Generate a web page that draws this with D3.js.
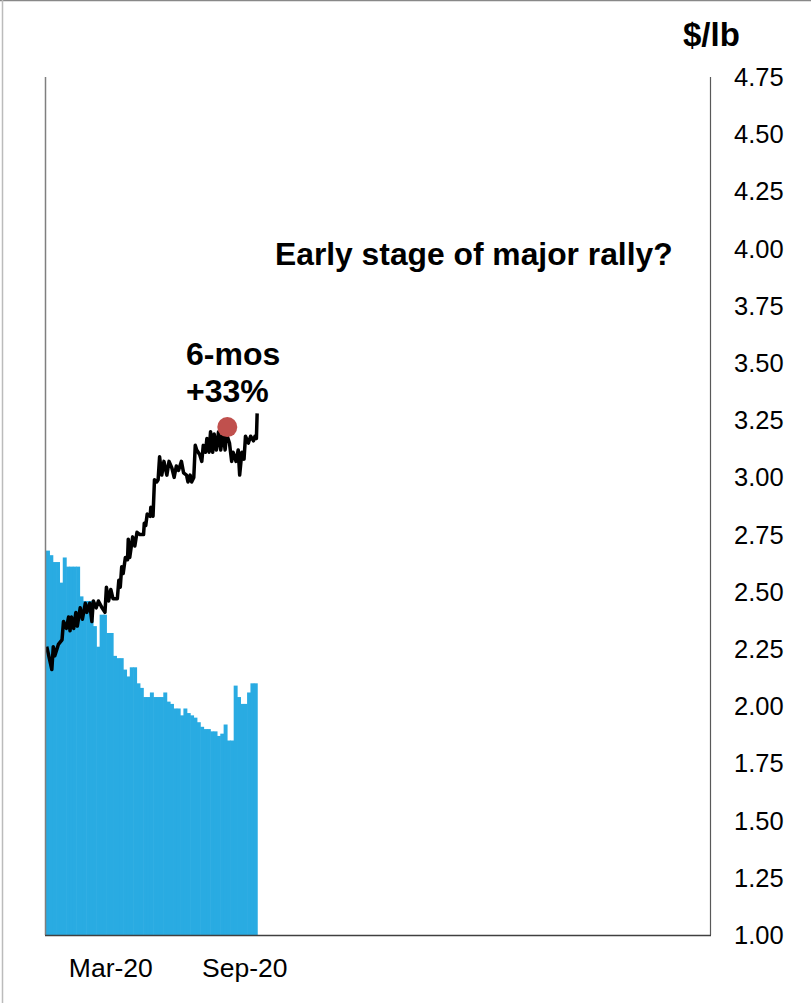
<!DOCTYPE html>
<html>
<head>
<meta charset="utf-8">
<script src="https://cdn.jsdelivr.net/npm/d3@7.9.0/dist/d3.min.js"></script>
<style>
  body { margin: 0; background: #fff; }
  svg { display: block; font-family: "Liberation Sans", Arial, sans-serif; }
</style>
</head>
<body>
<svg id="chart" width="811" height="1003"></svg>
<script>
// axis ranges
const startDate = new Date(2019, 11, 3);
const endDate = new Date(2022, 5, 2);
const yTicks = [1.00, 1.25, 1.50, 1.75, 2.00, 2.25, 2.50, 2.75, 3.00, 3.25, 3.50, 3.75, 4.00, 4.25, 4.50, 4.75];
const xTickDates = [new Date(2020, 2, 1), new Date(2020, 8, 1)];
const xTickLabels = ['Mar-20', 'Sep-20'];

// blue stepped series (equal steps from day 0 to day 290)
const barSpanDays = [0, 290];
const barValues = [
  2.68, 2.66, 2.63, 2.63, 2.54, 2.65, 2.61, 2.61, 2.61, 2.61,
  2.48, 2.46, 2.46, 2.46, 2.35, 2.26, 2.40, 2.40, 2.32, 2.32,
  2.22, 2.21, 2.21, 2.16, 2.13, 2.17, 2.17, 2.10, 2.08, 2.04,
  2.04, 2.06, 2.04, 2.04, 2.04, 2.06, 2.02, 2.01, 1.99, 1.99,
  1.96, 1.99, 1.97, 1.96, 1.95, 1.93, 1.91, 1.90, 1.90, 1.89,
  1.89, 1.87, 1.88, 1.92, 1.85, 1.85, 2.09, 2.04, 2.01, 2.01,
  2.06, 2.10, 2.10
];

// black price line: days since startDate, $/lb
const lineDays = [
  1, 8, 10, 12, 17, 22, 24, 28, 31, 33, 35, 38, 41, 43, 47, 50, 54, 56, 60, 63,
  65, 69, 72, 77, 81, 83, 86, 89, 92, 95, 98, 100, 102, 104, 106, 109, 112, 113, 115, 119,
  122, 125, 129, 134, 135, 137, 139, 143, 144, 147, 149, 152, 154, 156, 159, 162, 166, 169, 173, 176,
  179, 182, 186, 189, 193, 195, 198, 200, 203, 205, 207, 211, 214, 216, 219, 221, 224, 226, 229, 231,
  234, 237, 240, 243, 246, 248, 252, 255, 257, 261, 264, 266, 269, 272, 274, 278, 281, 285, 287, 289, 290
];
const lineValues = [
  2.26, 2.16, 2.26, 2.22, 2.27, 2.29, 2.37, 2.34, 2.39, 2.33, 2.39, 2.34, 2.41, 2.35, 2.43, 2.38, 2.45, 2.41, 2.45, 2.37,
  2.46, 2.43, 2.46, 2.43, 2.41, 2.52, 2.46, 2.51, 2.47, 2.47, 2.47, 2.55, 2.52, 2.61, 2.58, 2.65, 2.64, 2.73, 2.65, 2.74,
  2.70, 2.76, 2.75, 2.75, 2.80, 2.79, 2.84, 2.83, 2.87, 2.83, 2.99, 2.98, 2.99, 3.09, 3.01, 3.07, 3.01, 3.07, 3.04, 3.00,
  3.05, 3.03, 3.07, 3.02, 3.01, 2.98, 3.01, 2.98, 3.00, 3.14, 3.12, 3.10, 3.07, 3.14, 3.11, 3.17, 3.11, 3.20, 3.11, 3.19,
  3.12, 3.20, 3.12, 3.20, 3.12, 3.19, 3.15, 3.07, 3.11, 3.07, 3.12, 3.01, 3.11, 3.08, 3.18, 3.15, 3.18, 3.16, 3.18, 3.17, 3.28
];

const markerDay = 249;
const markerValue = 3.22;

const dayToDate = d => new Date(startDate.getTime() + d * 864e5);

const svg = d3.select('#chart');

const x = d3.scaleTime().domain([startDate, endDate]).range([46, 710]);
const y = d3.scaleLinear().domain([1, 4.75]).range([935, 77]);

// outer frame (top & left edges)
svg.append('line').attr('x1', 0).attr('x2', 811).attr('y1', 0.5).attr('y2', 0.5)
  .attr('stroke', '#888').attr('stroke-width', 1.5);
svg.append('line').attr('x1', 2.5).attr('x2', 2.5).attr('y1', 0).attr('y2', 1003)
  .attr('stroke', '#bbb').attr('stroke-width', 1.5);

// stepped bars
const step = (barSpanDays[1] - barSpanDays[0]) / barValues.length;
svg.append('g')
  .selectAll('rect')
  .data(barValues)
  .join('rect')
  .attr('x', (d, i) => x(dayToDate(barSpanDays[0] + i * step)))
  .attr('width', (d, i) => x(dayToDate(barSpanDays[0] + (i + 1) * step)) - x(dayToDate(barSpanDays[0] + i * step)) + 0.6)
  .attr('y', d => y(d))
  .attr('height', d => y(1) - y(d))
  .attr('fill', '#29abe2');

// price line
const lineData = lineDays.map((d, i) => ({ day: d, value: lineValues[i] }));
svg.append('path')
  .datum(lineData)
  .attr('fill', 'none')
  .attr('stroke', '#000')
  .attr('stroke-width', 3.5)
  .attr('stroke-linejoin', 'round')
  .attr('d', d3.line().x(d => x(dayToDate(d.day))).y(d => y(d.value)));

// marker
svg.append('circle')
  .attr('cx', x(dayToDate(markerDay)))
  .attr('cy', y(markerValue))
  .attr('r', 10)
  .attr('fill', '#c0504d');

// axis frame lines
svg.append('line').attr('x1', 45.5).attr('x2', 45.5).attr('y1', y(4.75)).attr('y2', y(1))
  .attr('stroke', '#7f7f7f').attr('stroke-width', 1.5);
svg.append('line').attr('x1', 710.5).attr('x2', 710.5).attr('y1', y(4.75)).attr('y2', y(1))
  .attr('stroke', '#595959').attr('stroke-width', 1.2);
svg.append('line').attr('x1', 45).attr('x2', 711).attr('y1', y(1) + 0.5).attr('y2', y(1) + 0.5)
  .attr('stroke', '#404040').attr('stroke-width', 1.5);

// y tick labels (right)
svg.append('g')
  .selectAll('text')
  .data(yTicks)
  .join('text')
  .attr('x', 734)
  .attr('y', d => y(d))
  .attr('dy', '0.35em')
  .attr('font-size', 25.5)
  .attr('fill', '#000')
  .text(d3.format('.2f'));

// x tick labels
svg.append('g')
  .selectAll('text')
  .data(xTickDates)
  .join('text')
  .attr('x', d => x(d))
  .attr('y', 968)
  .attr('dy', '0.35em')
  .attr('text-anchor', 'middle')
  .attr('font-size', 26.5)
  .attr('fill', '#000')
  .text((d, i) => xTickLabels[i]);

// units
svg.append('text')
  .attr('x', 683).attr('y', 46)
  .attr('font-size', 33).attr('font-weight', 'bold')
  .text('$/lb');

// annotations
svg.append('text')
  .attr('x', 275).attr('y', 265)
  .attr('font-size', 31.8).attr('font-weight', 'bold')
  .text('Early stage of major rally?');
svg.append('text')
  .attr('x', 186).attr('y', 365)
  .attr('font-size', 32).attr('font-weight', 'bold')
  .text('6-mos');
svg.append('text')
  .attr('x', 186).attr('y', 402)
  .attr('font-size', 32).attr('font-weight', 'bold')
  .text('+33%');
</script>
</body>
</html>
